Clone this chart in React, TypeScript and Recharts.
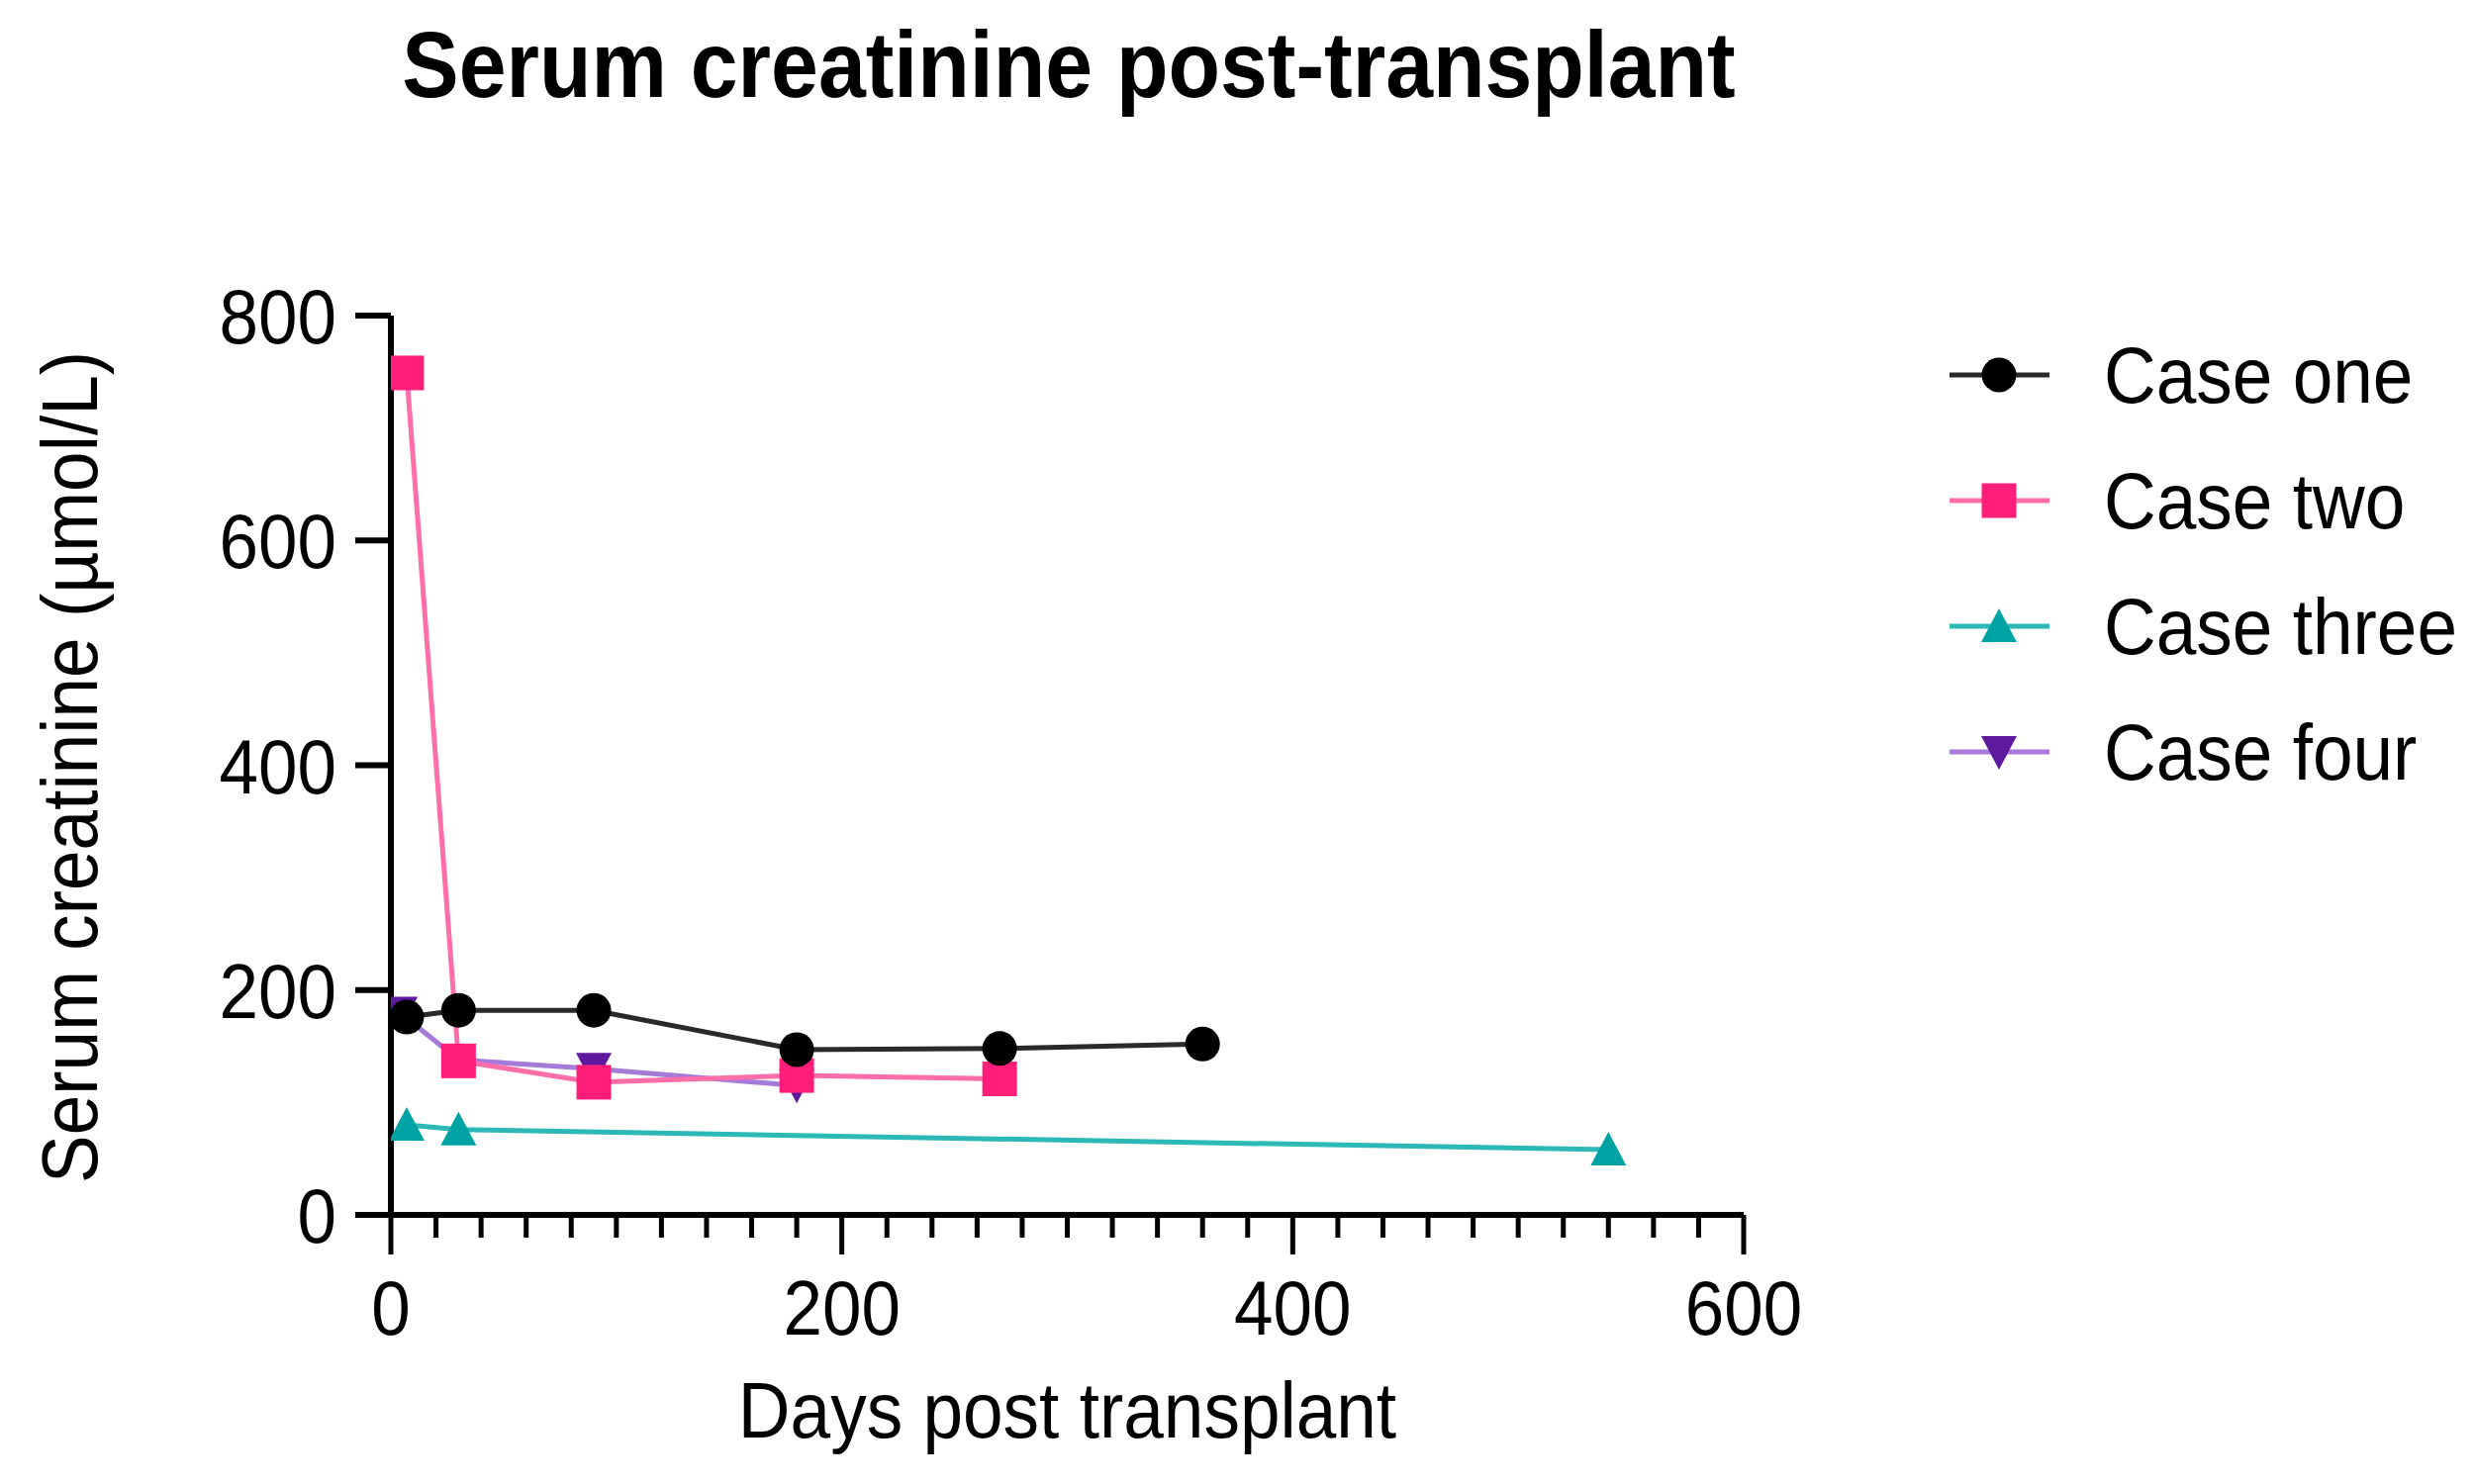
import React from 'react';
import { LineChart, Line, XAxis, YAxis, Legend } from 'recharts';

if (typeof document !== 'undefined') {
  document.body.style.margin = '0';
}

const FONT = '"Liberation Sans", Arial, Helvetica, sans-serif';
const STRETCH = 1.1;

// ---- data ----
const seriesNames = ['Case one', 'Case two', 'Case three', 'Case four'];

const caseOneDays = [7, 30, 90, 180, 270, 360];
const caseOneValues = [176, 182, 182, 147, 148, 152];

const caseTwoDays = [7, 30, 90, 180, 270];
const caseTwoValues = [749, 137, 118, 124, 121];

const caseThreeDays = [7, 30, 540];
const caseThreeValues = [80, 76, 58];

const caseFourDays = [4, 30, 90, 180];
const caseFourValues = [180, 138, 130, 115];

const xTicks = Array.from({ length: 31 }, (_, i) => i * 20);
const xMajorStep = 200;
const yTicks = [0, 200, 400, 600, 800];

const toPoints = (days: number[], values: number[]) =>
  days.map((d, i) => ({ day: d, value: values[i] }));

type Shape = 'circle' | 'square' | 'up' | 'down';

const series = [
  { name: seriesNames[0], data: toPoints(caseOneDays, caseOneValues), marker: '#000000', line: '#2a2a2a', shape: 'circle' as Shape },
  { name: seriesNames[1], data: toPoints(caseTwoDays, caseTwoValues), marker: '#FF1F7A', line: '#FF6EA8', shape: 'square' as Shape },
  { name: seriesNames[2], data: toPoints(caseThreeDays, caseThreeValues), marker: '#00A3A3', line: '#2DB8B8', shape: 'up' as Shape },
  { name: seriesNames[3], data: toPoints(caseFourDays, caseFourValues), marker: '#5E1A9E', line: '#A57AD8', shape: 'down' as Shape },
];

// text slightly stretched vertically, as in the reference image
const SText = ({ x, y, children, anchor = 'start', size = 72, weight = 'normal', rotate = 0, baseline }: any) => (
  <text
    x={0}
    y={0}
    transform={`translate(${x}, ${y}) rotate(${rotate}) scale(1, ${STRETCH})`}
    textAnchor={anchor}
    dominantBaseline={baseline}
    fontSize={size}
    fontWeight={weight}
    fontFamily={FONT}
    fill="#000"
  >
    {children}
  </text>
);

const MarkerShape = ({ cx, cy, shape, color }: { cx: number; cy: number; shape: Shape; color: string }) => {
  if (shape === 'circle') return <circle cx={cx} cy={cy} r={17.5} fill={color} />;
  if (shape === 'square') return <rect x={cx - 17.5} y={cy - 17.5} width={35} height={35} fill={color} />;
  if (shape === 'up')
    return <polygon points={`${cx},${cy - 18} ${cx - 18},${cy + 16} ${cx + 18},${cy + 16}`} fill={color} />;
  return <polygon points={`${cx - 18},${cy - 16} ${cx + 18},${cy - 16} ${cx},${cy + 18}`} fill={color} />;
};

const makeDot = (shape: Shape, color: string) => (props: any) => {
  const { cx, cy, index } = props;
  if (cx == null || cy == null) return <g key={`d-${index}`} />;
  return (
    <g key={`d-${index}`}>
      <MarkerShape cx={cx} cy={cy} shape={shape} color={color} />
    </g>
  );
};

const XTick = (props: any) => {
  const { x, y, payload } = props;
  const v = payload.value;
  const major = v % xMajorStep === 0;
  return (
    <g>
      <line x1={x} x2={x} y1={y} y2={y + (major ? 40 : 23)} stroke="#000" strokeWidth={5} />
      {major && (
        <SText x={x} y={y + 121} anchor="middle" size={71}>
          {v}
        </SText>
      )}
    </g>
  );
};

const YTick = (props: any) => {
  const { x, y, payload } = props;
  return (
    <g>
      <line x1={x - 36} x2={x} y1={y} y2={y} stroke="#000" strokeWidth={6} />
      <SText x={x - 55} y={y + 28} anchor="end" size={71}>
        {payload.value}
      </SText>
    </g>
  );
};

const YLabel = (props: any) => {
  const vb = props.viewBox || {};
  const cx = (vb.x ?? 0) + 98;
  const cy = (vb.y ?? 0) + (vb.height ?? 0) / 2 + 2;
  return (
    <SText x={cx} y={cy} rotate={-90} anchor="middle" size={73}>
      Serum creatinine (µmol/L)
    </SText>
  );
};

const XLabel = (props: any) => {
  const vb = props.viewBox || {};
  const cx = (vb.x ?? 0) + (vb.width ?? 0) / 2;
  const y = (vb.y ?? 0) + 225;
  return (
    <SText x={cx} y={y} anchor="middle" size={73}>
      Days post transplant
    </SText>
  );
};

const LegendContent = () => {
  const rowGap = 127;
  return (
    <svg width={560} height={520}>
      {series.map((s, i) => {
        const y = 59 + i * rowGap;
        return (
          <g key={s.name}>
            <line x1={30} x2={131} y1={y} y2={y} stroke={s.line} strokeWidth={5} />
            <MarkerShape cx={80} cy={y} shape={s.shape} color={s.marker} />
            <SText x={186} y={y + 28} size={73}>
              {s.name}
            </SText>
          </g>
        );
      })}
    </svg>
  );
};

export default function App() {
  const drawOrder = [3, 2, 1, 0];
  return (
    <div style={{ position: 'relative', width: 2501, height: 1500, background: '#fff' }}>
      <svg width={2501} height={160} style={{ position: 'absolute', left: 0, top: 0 }}>
        <SText x={1080} y={98} anchor="middle" size={86} weight="bold">
          Serum creatinine post-transplant
        </SText>
      </svg>
      <LineChart width={2501} height={1500} margin={{ top: 319, right: 739, left: 0, bottom: 0 }}>
        <XAxis
          type="number"
          dataKey="day"
          domain={[0, 600]}
          ticks={xTicks}
          interval={0}
          height={272}
          tickSize={0}
          tickMargin={0}
          tickLine={false}
          tick={<XTick />}
          axisLine={{ stroke: '#000', strokeWidth: 6 }}
          allowDataOverflow
          label={<XLabel />}
        />
        <YAxis
          type="number"
          dataKey="value"
          domain={[0, 800]}
          ticks={yTicks}
          interval={0}
          width={395}
          tickSize={0}
          tickMargin={0}
          tickLine={false}
          tick={<YTick />}
          axisLine={{ stroke: '#000', strokeWidth: 6 }}
          allowDataOverflow
          label={<YLabel />}
        />
        <Legend
          layout="vertical"
          align="center"
          verticalAlign="middle"
          content={<LegendContent />}
          wrapperStyle={{ position: 'absolute', left: 1940, top: 320, width: 560, height: 520 }}
        />
        {drawOrder.map((idx) => {
          const s = series[idx];
          return (
            <Line
              key={s.name}
              name={s.name}
              data={s.data}
              dataKey="value"
              type="linear"
              stroke={s.line}
              strokeWidth={5}
              dot={makeDot(s.shape, s.marker)}
              activeDot={false}
              isAnimationActive={false}
            />
          );
        })}
      </LineChart>
    </div>
  );
}
